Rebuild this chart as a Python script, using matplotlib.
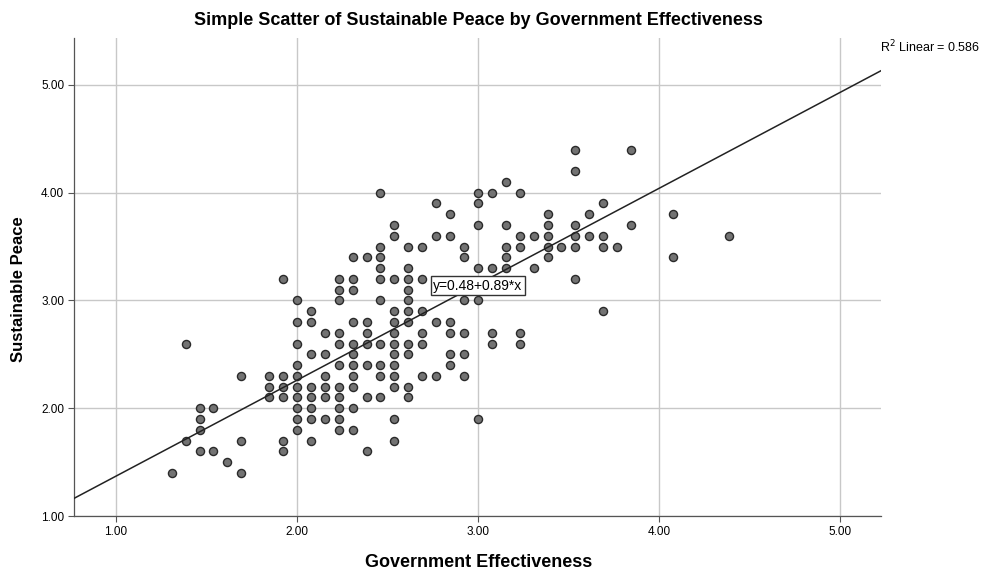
import matplotlib
matplotlib.use("Agg")
import matplotlib.pyplot as plt
import numpy as np

plt.rcParams['font.family'] = ['Liberation Sans', 'DejaVu Sans']

# government effectiveness is stored as n/13, sustainable peace as m/10
# each entry: (n, [m values in that column])
columns = [
    (17, [14]),
    (18, [26, 17]),
    (19, [20, 19, 18, 16]),
    (20, [20, 16]),
    (21, [15]),
    (22, [23, 17, 14]),
    (24, [23, 22, 21]),
    (25, [32, 23, 22, 21, 17, 16]),
    (26, [30, 28, 26, 24, 23, 22, 21, 20, 19, 18]),
    (27, [29, 28, 25, 22, 21, 20, 19, 17]),
    (28, [27, 25, 23, 22, 21, 19]),
    (29, [32, 31, 30, 27, 26, 24, 22, 21, 20, 19, 18]),
    (30, [34, 32, 31, 28, 26, 25, 24, 23, 22, 20, 18]),
    (31, [34, 28, 27, 26, 24, 21, 16]),
    (32, [40, 35, 34, 33, 32, 30, 26, 24, 23, 21]),
    (33, [37, 36, 32, 29, 28, 27, 26, 25, 24, 23, 22, 19, 17]),
    (34, [35, 33, 32, 31, 30, 29, 28, 26, 25, 22, 21]),
    (35, [35, 32, 29, 27, 26, 23]),
    (36, [39, 36, 28, 23]),
    (37, [38, 36, 28, 27, 25, 24]),
    (38, [35, 34, 30, 27, 25, 23]),
    (39, [40, 39, 37, 33, 30, 19]),
    (40, [40, 33, 27, 26]),
    (41, [41, 37, 35, 34, 33]),
    (42, [40, 36, 35, 27, 26]),
    (43, [36, 33]),
    (44, [38, 37, 36, 35, 34]),
    (45, [35]),
    (46, [44, 42, 37, 36, 35, 32]),
    (47, [38, 36]),
    (48, [39, 36, 35, 29]),
    (49, [35]),
    (50, [44, 37]),
    (53, [38, 34]),
    (57, [36]),
]

gov_eff = []
peace = []
for n, ms in columns:
    for m in ms:
        gov_eff.append(n / 13)
        peace.append(m / 10)
gov_eff = np.array(gov_eff)
peace = np.array(peace)

intercept = 0.48
slope = 0.89
r2_text = 'R$^2$ Linear = 0.586'
eq_text = 'y=0.48+0.89*x'

ticks = [1.0, 2.0, 3.0, 4.0, 5.0]
tick_labels = ['1.00', '2.00', '3.00', '4.00', '5.00']

fig = plt.figure(figsize=(9.84, 5.72), dpi=100)
ax = fig.add_axes([0.0752, 0.0979, 0.8201, 0.8357])

x_lo, x_hi = 0.768, 5.227
ax.set_xlim(x_lo, x_hi)
ax.set_ylim(1.0, 5.436)

ax.grid(True, color='#c8c8c8', linewidth=1.0)
ax.set_axisbelow(True)
ax.set_xticks(ticks)
ax.set_yticks(ticks)
ax.set_xticklabels(tick_labels)
ax.set_yticklabels(tick_labels)
ax.tick_params(labelsize=8.5, length=4, color='#555555', width=0.8, pad=3)

for side in ['top', 'right']:
    ax.spines[side].set_visible(False)
for side in ['left', 'bottom']:
    ax.spines[side].set_color('#555555')
    ax.spines[side].set_linewidth(0.9)

ax.scatter(gov_eff, peace, s=34, facecolor='#737373', edgecolor='#2a2a2a',
           linewidth=1.0, zorder=3, clip_on=False)

xs = np.array([x_lo, x_hi])
ax.plot(xs, intercept + slope * xs, color='#222222', linewidth=1.1, zorder=4)

ax.text(3.0, 3.135, eq_text, fontsize=10, ha='center', va='center', zorder=5,
        bbox=dict(boxstyle='square,pad=0.18', facecolor='white', edgecolor='#333333', linewidth=1.0))

fig.text(0.894, 0.917, r2_text, fontsize=9, ha='left', va='center')

fig.text(0.4865, 0.965, 'Simple Scatter of Sustainable Peace by Government Effectiveness',
         fontsize=13, fontweight='bold', ha='center', va='center')
fig.text(0.4865, 0.016, 'Government Effectiveness',
         fontsize=13, fontweight='bold', ha='center', va='center')
fig.text(0.019, 0.495, 'Sustainable Peace', rotation=90,
         fontsize=12, fontweight='bold', ha='center', va='center')

fig.savefig('out.png', dpi=100)
